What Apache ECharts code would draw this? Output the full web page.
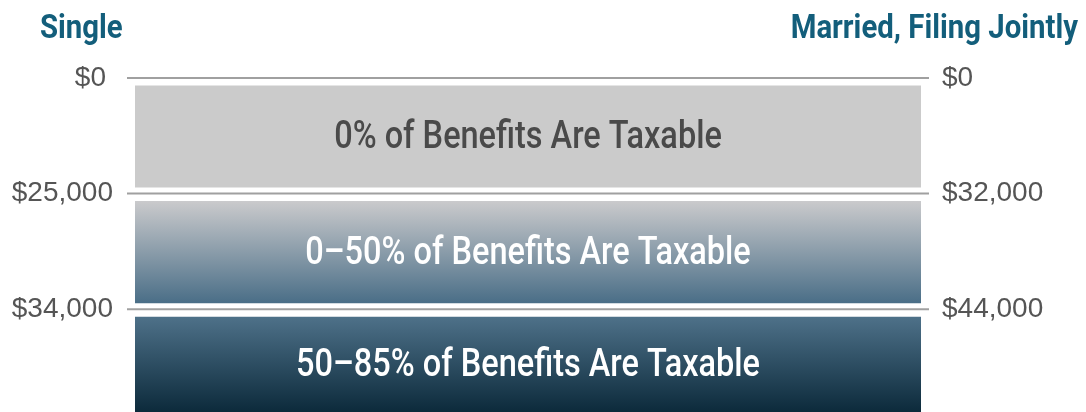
<!DOCTYPE html>
<html><head><meta charset="utf-8">
<script src="https://cdn.jsdelivr.net/npm/echarts@6/dist/echarts.min.js"></script>
<style>html,body{margin:0;padding:0;background:#fff}#c{width:1086px;height:412px}</style>
</head><body><div id="c"></div>
<script>
const bandLabels = ['0% of Benefits Are Taxable', '0–50% of Benefits Are Taxable', '50–85% of Benefits Are Taxable'];
const bandStart = [0, 1, 2];
const bandEnd = [1, 2, 3];
const singleTicks = ['$0', '$25,000', '$34,000'];
const marriedTicks = ['$0', '$32,000', '$44,000'];
const titleSingle = 'Single';
const titleMarried = 'Married, Filing Jointly';

const bandFills = [
  {top: '#cbcbcb', bottom: '#cbcbcb', text: '#4a4a4a'},
  {top: '#cacacc', bottom: '#4a6e87', text: '#ffffff'},
  {top: '#4e7189', bottom: '#0c2a3b', text: '#ffffff'}
];
const condFont = 'Roboto, "DejaVu Sans Condensed", sans-serif';
const tickFont = '"Liberation Sans", Arial, sans-serif';
const titleColor = '#135e7b';

const chart = echarts.init(document.getElementById('c'), null, {renderer: 'canvas'});
chart.setOption({
  animation: false,
  graphic: [
    {type: 'text', x: 40, y: 30, scaleX: 0.89,
     style: {text: titleSingle, font: 'bold 33px ' + condFont, fill: titleColor, align: 'left', verticalAlign: 'middle'}},
    {type: 'text', x: 1078, y: 30, scaleX: 0.89,
     style: {text: titleMarried, font: 'bold 33px ' + condFont, fill: titleColor, align: 'right', verticalAlign: 'middle'}}
  ],
  grid: {left: 127, right: 157, top: 78, bottom: 0},
  xAxis: {type: 'value', min: 0, max: 1, show: false},
  yAxis: [
    {type: 'value', inverse: true, min: 0, max: 2.89, interval: 1, position: 'left',
     axisLine: {show: false}, axisTick: {show: false}, splitLine: {show: false},
     axisLabel: {margin: 14, fontSize: 28, color: '#555555', fontFamily: tickFont, showMaxLabel: false,
       formatter: v => (v === 0 ? '{z|' + singleTicks[0] + '}' : (singleTicks[v] !== undefined ? singleTicks[v] : '')),
       rich: {z: {fontSize: 28, color: '#555555', fontFamily: tickFont, padding: [0, 7, 0, 0]}}}},
    {type: 'value', inverse: true, min: 0, max: 2.89, interval: 1, position: 'right',
     axisLine: {show: false}, axisTick: {show: false}, splitLine: {show: false},
     axisLabel: {margin: 13, fontSize: 28, color: '#555555', fontFamily: tickFont, showMaxLabel: false,
       formatter: v => (marriedTicks[v] !== undefined ? marriedTicks[v] : '')}}
  ],
  series: [{
    type: 'custom',
    clip: false,
    data: bandStart.map((s, i) => [s, bandEnd[i]]),
    encode: {y: [0, 1]},
    renderItem(params, api) {
      const i = params.dataIndex;
      const cs = params.coordSys;
      const a = api.coord([0, api.value(0)]);
      const b = api.coord([1, api.value(1)]);
      const yTop = a[1] + 7.5;
      const yBot = Math.min(b[1] - 6, cs.y + cs.height);
      const x0 = a[0] + 8, x1 = b[0] - 8;
      const f = bandFills[i];
      return {type: 'group', children: [
        {type: 'line', shape: {x1: cs.x, y1: a[1], x2: cs.x + cs.width, y2: a[1]},
         style: {stroke: '#a0a0a0', lineWidth: 2}},
        {type: 'rect', shape: {x: x0, y: yTop, width: x1 - x0, height: yBot - yTop},
         style: {fill: new echarts.graphic.LinearGradient(0, 0, 0, 1, [
           {offset: 0, color: f.top}, {offset: 1, color: f.bottom}])}},
        {type: 'text', x: (x0 + x1) / 2, y: (yTop + yBot) / 2 + 2, scaleX: 0.855,
         style: {text: bandLabels[i], fill: f.text, font: '500 38px ' + condFont,
                 align: 'center', verticalAlign: 'middle'}}
      ]};
    }
  }]
});
</script></body></html>
